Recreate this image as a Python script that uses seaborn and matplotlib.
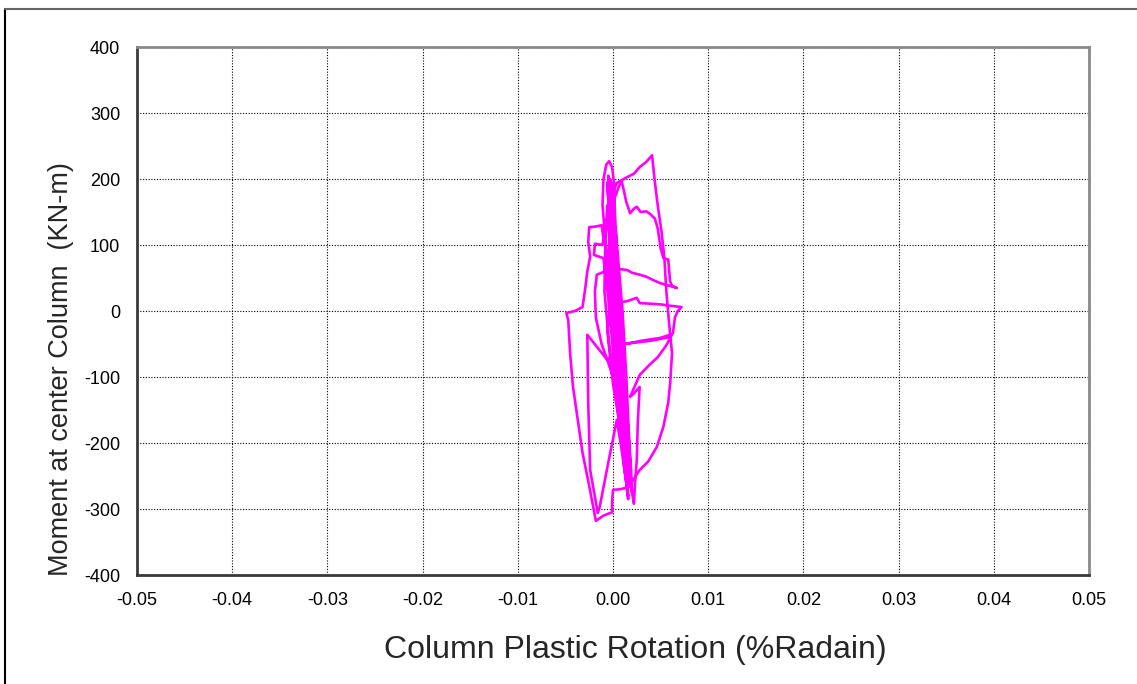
import matplotlib
matplotlib.use("Agg")
import matplotlib.pyplot as plt
from matplotlib.lines import Line2D
import pandas as pd
import seaborn as sns

# ---- data ----
rotation = [
    # small elastic cycles
    0.0000, -0.0003, 0.0002, -0.0004, 0.0005, -0.0005, 0.0008, -0.0006, 0.0011, -0.0005,
    0.0013, -0.0003, 0.0015, -0.0002, 0.0017,
    # peak loop
    0.0012, 0.0005, -0.0002, -0.0008, -0.0011, -0.0010, -0.0007, -0.0004, -0.0001, 0.0001,
    0.0002, 0.0005, 0.0010, 0.0015, 0.0019, 0.0020,
    # loop with jagged top
    0.0014, 0.0006, 0.0000, -0.0003, -0.0002, 0.0002, 0.0006, 0.0009, 0.0011, 0.0014,
    0.0018, 0.0022, 0.0025, 0.0029, 0.0035, 0.0039, 0.0044, 0.0047, 0.0050, 0.0053,
    0.0058, 0.0060, 0.0062, 0.0067, 0.0060, 0.0050, 0.0042, 0.0035, 0.0028, 0.0020,
    0.0015, 0.0005, -0.0005, -0.0017, -0.0019, -0.0018, -0.0012, -0.0006, 0.0000, 0.0008,
    0.0015, 0.0020, 0.0022,
    # right small loop
    0.0023, 0.0025, 0.0026, 0.0028, 0.0022, 0.0018, 0.0028, 0.0038, 0.0047, 0.0056,
    0.0063, 0.0065, 0.0068, 0.0072, 0.0060, 0.0050, 0.0040, 0.0028, 0.0025, 0.0015,
    0.0004, -0.0003, -0.0006, 0.0000, 0.0009, 0.0016,
    # wider band cycles
    0.0006, -0.0004, -0.0009, -0.0008, -0.0004, 0.0003, 0.0010, 0.0014, 0.0018,
    0.0010, 0.0002, -0.0006, -0.0008, -0.0006, 0.0002, 0.0009, 0.0013,
    # big top-right loop
    0.0008, 0.0000, -0.0004, -0.0003, 0.0004, 0.0015, 0.0022, 0.0028, 0.0035,
    0.0041, 0.0044, 0.0047, 0.0051, 0.0054, 0.0056, 0.0059, 0.0062, 0.0060, 0.0058,
    0.0053, 0.0046, 0.0037, 0.0028, 0.0016, 0.0008, 0.0000, -0.0001, -0.0001, -0.0010,
    -0.0018,
    # left excursion
    -0.0025, -0.0032, -0.0037, -0.0042, -0.0045, -0.0047, -0.0049, -0.0040, -0.0032, -0.0029,
    -0.0027, -0.0024, -0.0026, -0.0025, -0.0018, -0.0012, -0.0010, -0.0011, -0.0019, -0.0020,
    -0.0010, -0.0005, 0.0000, 0.0008, 0.0012, 0.0016,
    # final cycles
    0.0010, 0.0004, 0.0007, 0.0030, 0.0049, 0.0060, 0.0058, 0.0040, 0.0010, -0.0006,
    -0.0027, -0.0026, -0.0024, -0.0016, -0.0014, -0.0005, 0.0004, 0.0008, 0.0013, 0.0016,
    0.0010, 0.0003, -0.0002, -0.0003, 0.0000,
]
moment = [
    0, 110, -70, 140, -120, 170, -165, 195, -200, 205,
    -225, 200, -245, 195, -262,
    -200, -90, 20, 110, 160, 200, 222, 227, 218, 195,
    150, 60, -60, -160, -240, -275,
    -200, -90, 20, 100, 150, 172, 188, 197, 185, 165,
    148, 155, 158, 150, 151, 147, 140, 125, 95, 80,
    78, 45, 38, 35, 38, 42, 47, 52, 55, 58,
    62, 64, 62, 55, 30, -10, -50, -74, -100, -170,
    -235, -275, -292,
    -265, -225, -170, -115, -125, -130, -97, -82, -70, -52,
    -33, -10, 0, 6, 8, 10, 11, 12, 20, 15,
    12, 0, -30, -110, -190, -260,
    -160, -50, 30, 110, 175, 120, 0, -100, -230,
    -140, -40, 40, 100, 160, 60, -60, -200,
    -130, -20, 90, 168, 194, 203, 208, 218, 226,
    236, 195, 160, 120, 80, 30, -20, -64, -110, -139,
    -175, -206, -228, -241, -267, -270, -271, -290, -305, -310,
    -318,
    -265, -215, -165, -115, -65, -14, -3, 0, 6, 36,
    60, 82, 105, 127, 128, 130, 110, 100, 102, 85,
    80, 20, -60, -170, -240, -280,
    -200, -80, -52, -45, -41, -36, -40, -45, -50, -74,
    -36, -140, -241, -306, -297, -230, -165, -200, -250, -285,
    -200, -60, 60, 120, 0,
]
x_ticks = [-0.05, -0.04, -0.03, -0.02, -0.01, 0.00, 0.01, 0.02, 0.03, 0.04, 0.05]
x_tick_labels = ["-0.05", "-0.04", "-0.03", "-0.02", "-0.01", "0.00",
                 "0.01", "0.02", "0.03", "0.04", "0.05"]
y_ticks = [-400, -300, -200, -100, 0, 100, 200, 300, 400]
y_tick_labels = ["-400", "-300", "-200", "-100", "0", "100", "200", "300", "400"]
x_label = "Column Plastic Rotation (%Radain)"
y_label = "Moment at center Column  (KN-m)"

# ---- plot ----
sns.set_style("white")
plt.rcParams['font.family'] = ['Liberation Sans', 'DejaVu Sans']

W, H = 1137, 684
fig = plt.figure(figsize=(W / 100, H / 100), dpi=100)
ax = fig.add_axes([137 / W, 1 - 575 / H, (1089 - 137) / W, (575 - 47) / H])

df = pd.DataFrame({"rot": rotation, "mom": moment})
sns.lineplot(data=df, x="rot", y="mom", sort=False, estimator=None,
             color="#FF00FF", lw=1.9, ax=ax)

ax.set_xlim(-0.05, 0.05)
ax.set_ylim(-400, 400)
ax.set_xticks(x_ticks)
ax.set_xticklabels(x_tick_labels)
ax.set_yticks(y_ticks)
ax.set_yticklabels(y_tick_labels)
ax.tick_params(axis="both", direction="in", length=3, width=1, colors="#333333",
               labelsize=13, labelcolor="black", pad=12)
ax.grid(True, color="black", linestyle=(0, (1, 1.5)), lw=0.8)
ax.set_axisbelow(True)

for s in ["left", "bottom"]:
    ax.spines[s].set_color("#3a3a3a")
    ax.spines[s].set_linewidth(2)
for s in ["top", "right"]:
    ax.spines[s].set_color("#8a8a8a")
    ax.spines[s].set_linewidth(2)

ax.set_xlabel(x_label, fontsize=23)
ax.set_ylabel(y_label, fontsize=19.5)
ax.xaxis.set_label_coords(0.523, -0.114)
ax.yaxis.set_label_coords(-0.066, 0.39)

# outer frame (left and top edges visible)
fig.add_artist(Line2D([4.5 / W, 4.5 / W], [0, 1 - 8.5 / H], transform=fig.transFigure,
                      color="black", lw=1.5))
fig.add_artist(Line2D([4.5 / W, 1], [1 - 8.5 / H, 1 - 8.5 / H], transform=fig.transFigure,
                      color="#666666", lw=1.5))

fig.savefig("out.png", dpi=100)
